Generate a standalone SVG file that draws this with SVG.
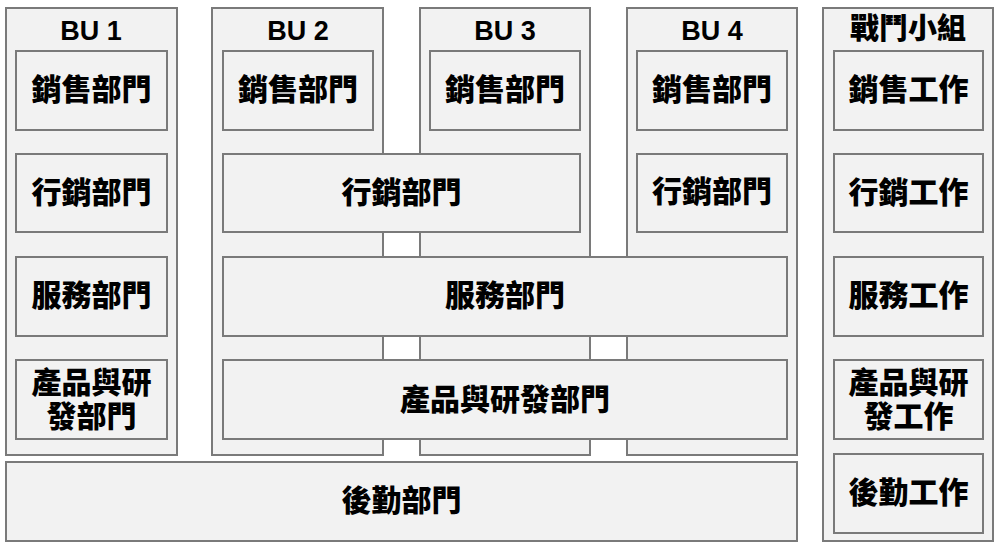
<svg xmlns="http://www.w3.org/2000/svg" width="1000" height="549" viewBox="0 0 1000 549">
<style>
rect{fill:#f2f2f2;stroke:#7a7a7a;stroke-width:2}
.t{font-family:"Noto Sans CJK TC","Noto Sans CJK SC",sans-serif;font-weight:900;font-size:30px;fill:#000;text-anchor:middle;dominant-baseline:central}
.h{font-family:"Liberation Sans",Arial,sans-serif;font-weight:bold;font-size:27px;fill:#000;text-anchor:middle}
.hc{font-family:"Noto Sans CJK TC",sans-serif;font-weight:900;font-size:29px;fill:#000;text-anchor:middle}
</style>
<rect width="1000" height="549" style="fill:#fff;stroke:none"/>
<g id="bu1">
<rect x="6" y="8" width="171" height="447"/>
<text class="h" x="91" y="40">BU 1</text>
</g>
<g id="bu2">
<rect x="212" y="8" width="171" height="447"/>
<text class="h" x="298" y="40">BU 2</text>
</g>
<g id="bu3">
<rect x="420" y="8" width="170" height="447"/>
<text class="h" x="505" y="40">BU 3</text>
</g>
<g id="bu4">
<rect x="627" y="8" width="170" height="447"/>
<text class="h" x="712" y="40">BU 4</text>
</g>
<g id="squad">
<rect x="823" y="8" width="170" height="533"/>
<text class="hc" x="908" y="39">戰鬥小組</text>
</g>
<g id="bu1-sales"><rect x="16" y="51" width="151" height="79"/><text class="t" x="91.5" y="87">銷售部門</text></g>
<g id="bu1-mkt"><rect x="16" y="154" width="151" height="78"/><text class="t" x="91.5" y="190">行銷部門</text></g>
<g id="bu1-svc"><rect x="16" y="257" width="151" height="79"/><text class="t" x="91.5" y="293">服務部門</text></g>
<g id="bu1-rd"><rect x="16" y="360" width="151" height="79"/><text class="t" x="91.5" y="380">產品與研<tspan x="91.5" dy="34">發部門</tspan></text></g>
<g id="bu2-sales"><rect x="223" y="51" width="150" height="79"/><text class="t" x="298" y="87">銷售部門</text></g>
<g id="bu3-sales"><rect x="430" y="51" width="150" height="79"/><text class="t" x="505" y="87">銷售部門</text></g>
<g id="bu4-sales"><rect x="637" y="51" width="150" height="79"/><text class="t" x="712" y="87">銷售部門</text></g>
<g id="bu23-mkt"><rect x="223" y="154" width="357" height="78"/><text class="t" x="401.5" y="190">行銷部門</text></g>
<g id="bu4-mkt"><rect x="637" y="154" width="150" height="78"/><text class="t" x="712" y="189">行銷部門</text></g>
<g id="bu234-svc"><rect x="223" y="257" width="564" height="79"/><text class="t" x="505" y="293">服務部門</text></g>
<g id="bu234-rd"><rect x="223" y="360" width="564" height="79"/><text class="t" x="505" y="397">產品與研發部門</text></g>
<g id="logistics"><rect x="6" y="462" width="791" height="79"/><text class="t" x="401.5" y="498">後勤部門</text></g>
<g id="sq-sales"><rect x="834" y="51" width="149" height="79"/><text class="t" x="908.5" y="87">銷售工作</text></g>
<g id="sq-mkt"><rect x="834" y="154" width="149" height="78"/><text class="t" x="908.5" y="190">行銷工作</text></g>
<g id="sq-svc"><rect x="834" y="257" width="149" height="79"/><text class="t" x="908.5" y="293">服務工作</text></g>
<g id="sq-rd"><rect x="834" y="360" width="149" height="79"/><text class="t" x="908.5" y="380">產品與研<tspan x="908.5" dy="34">發工作</tspan></text></g>
<g id="sq-log"><rect x="834" y="454" width="149" height="79"/><text class="t" x="908.5" y="490">後勤工作</text></g>
<g id="connectors"></g>
</svg>
